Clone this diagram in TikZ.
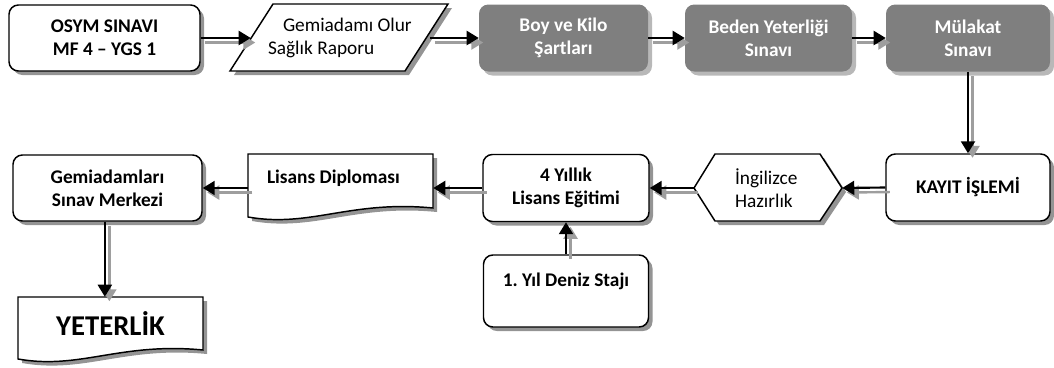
\documentclass[tikz,border=0pt]{standalone}
\usepackage{fontspec}
\setmainfont{Carlito}
\usetikzlibrary{arrows.meta,shadows}
\definecolor{boxgrey}{RGB}{127,127,127}
\frenchspacing
\tikzset{
  wh/.style 2 args={minimum width=#1*0.75pt, minimum height=#2*0.75pt},
  txt/.style={font=\fontsize{14.5}{17.25}\selectfont},
  btxt/.style={font=\fontsize{14.5}{17.25}\selectfont\bfseries},
  whitebox/.style={drop shadow={shadow xshift=3pt,shadow yshift=-3pt,fill=black,opacity=0.42},
    draw, line width=1.1pt, rounded corners=7pt, fill=white, align=center, inner sep=0pt, btxt},
  greybox/.style={drop shadow={shadow xshift=3pt,shadow yshift=-3pt,fill=black,opacity=0.28},
    fill=boxgrey, rounded corners=7pt, text=white, align=center, inner sep=0pt, btxt},
  plain/.style={inner sep=0pt},
  shapeline/.style={draw, line width=1.1pt, fill=white},
  shfill/.style={fill=black, opacity=0.42, xshift=3pt, yshift=-3pt},
  mainline/.style={draw=black, line width=1.6pt, -{Triangle[length=9pt,width=10.5pt]}},
  shline/.style={draw=black!38, line width=1.8pt, -{Triangle[length=9pt,width=10.5pt]},
    transform canvas={xshift=3.4pt,yshift=-3.4pt}},
}
\newcommand\conn[2]{\draw[shline] #1 -- #2; \draw[mainline] #1 -- #2;}
\begin{document}
\begin{tikzpicture}[x=0.75pt,y=-0.75pt]
\useasboundingbox (0,0) rectangle (1054,368);

% top row
\node[whitebox, wh={191}{66}] (osym) at (104.5,38) {OSYM SINAVI\\MF 4 – YGS 1};

\fill[shfill] (273,4) -- (448,4) -- (405,71) -- (230,71) -- cycle;
\draw[shapeline] (273,4) -- (448,4) -- (405,71) -- (230,71) -- cycle;
\node[plain, txt, text width=134.25pt, align=flush left, wh={179}{60}] (para) at (340.5,38)
  {\hspace*{24pt}Gemiadamı Olur\\\hspace*{12.75pt}Sağlık Raporu};

\node[greybox, wh={169}{67}] (boy) at (563.5,38) {Boy ve Kilo\\Şartları};
\node[greybox, wh={167}{67}] (beden) at (768.5,38) {Beden Yeterliği\\Sınavı};
\node[greybox, wh={164}{67}] (mulakat) at (968,38) {Mülakat\\Sınavı};

% second row
\node[whitebox, wh={164}{67}] (kayit) at (968,187.5) {KAYIT İŞLEMİ};

\fill[shfill] (694,188) -- (715,154) -- (820,154) -- (842,188) -- (820,221) -- (715,221) -- cycle;
\draw[shapeline] (694,188) -- (715,154) -- (820,154) -- (842,188) -- (820,221) -- (715,221) -- cycle;
\node[plain, txt, inner xsep=30.75pt, text width=49.5pt, align=flush left, wh={148}{66}] (hex) at (768,188)
  {İngilizce\\Hazırlık};

\node[whitebox, wh={166}{67}] (yillik) at (566,188) {4 Yıllık\\Lisans Eğitimi};
\node[whitebox, wh={165}{72}] (staj) at (566,291) {1. Yıl Deniz Stajı\\\mbox{}};

\fill[shfill] (248,154) -- (433,154) -- (433,208) .. controls (350,200) and (310,228) .. (248,217) -- cycle;
\draw[shapeline] (248,154) -- (433,154) -- (433,208) .. controls (350,200) and (310,228) .. (248,217) -- cycle;
\node[plain, btxt, inner xsep=14.25pt, text width=110.25pt, align=flush left, wh={185}{67}] (lisans) at (340.5,188)
  {Lisans Diploması\\\mbox{}};

\node[whitebox, wh={189}{66}] (gemi) at (107.5,188) {Gemiadamları\\Sınav Merkezi};

% bottom
\fill[shfill] (18,297) -- (203,297) -- (203,350) .. controls (120,342) and (80,370) .. (18,359) -- cycle;
\draw[shapeline] (18,297) -- (203,297) -- (203,350) .. controls (120,342) and (80,370) .. (18,359) -- cycle;
\node[plain, font=\fontsize{21.5}{25}\selectfont\bfseries, wh={185}{53}] (yeterlik) at (110.5,323.5) {YETERLİK};

% connectors
\conn{(osym.east)}{(para.west)}
\conn{(para.east)}{(boy.west)}
\conn{(boy.east)}{(beden.west)}
\conn{(beden.east)}{(mulakat.west)}
\conn{(mulakat.south)}{(kayit.north)}
\conn{(kayit.west)}{(hex.east)}
\conn{(hex.west)}{(yillik.east)}
\conn{(staj.north)}{(yillik.south)}
\conn{(yillik.west)}{(lisans.east)}
\conn{(lisans.west)}{(gemi.east)}
\conn{([xshift=-2pt]gemi.south)}{([xshift=-2pt]gemi.south |- yeterlik.north)}
\end{tikzpicture}
\end{document}
